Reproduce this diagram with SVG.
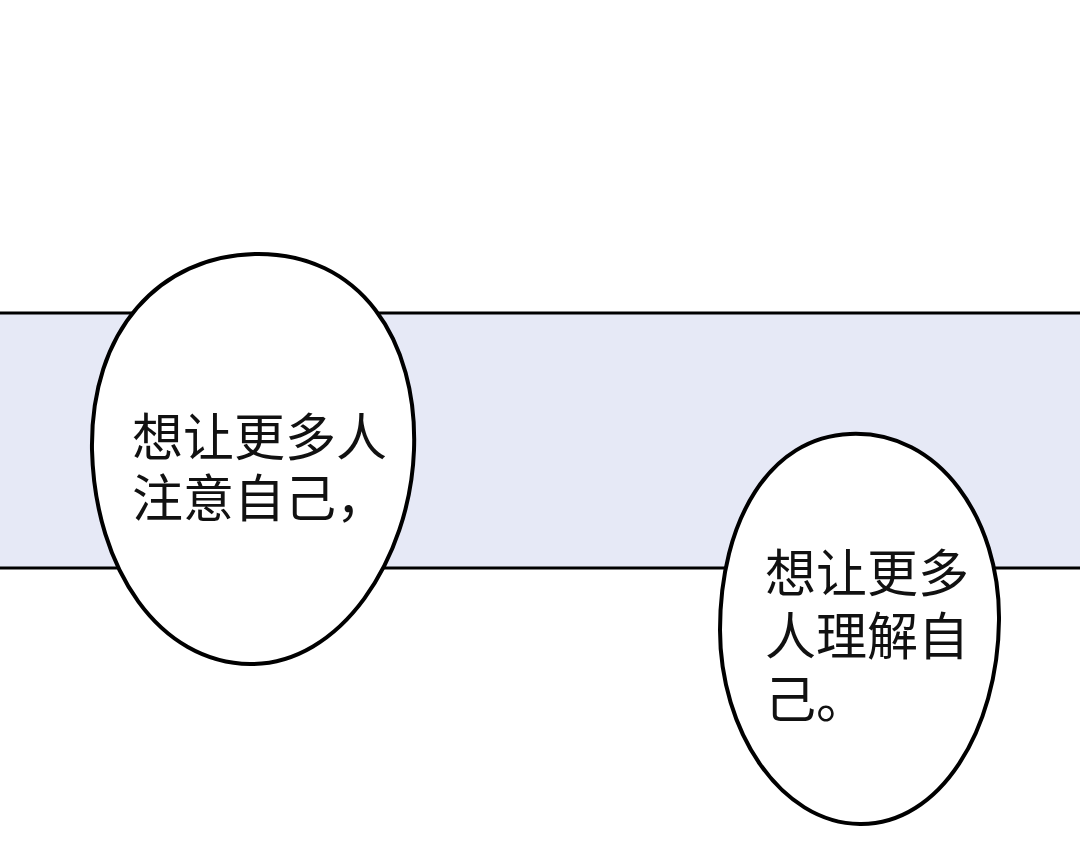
<svg xmlns="http://www.w3.org/2000/svg" width="1080" height="844" viewBox="0 0 1080 844">
<style>
.b{fill:#fff;stroke:#000;stroke-width:4}
.t{font-family:"Noto Sans CJK SC",sans-serif;font-size:51px;fill:#111}
</style>
<rect width="1080" height="844" fill="#fff"/>
<rect x="-5" y="313" width="1090" height="255" fill="#e6e9f6" stroke="#000" stroke-width="3"/>
<g id="bubble1">
<path class="b" d="M255,254 C360,252 418,340 414,450 C410,560 340,665 250,664 C160,663 95,570 92,450 C90,330 160,256 255,254 Z"/>
<text class="t" x="132" y="456">想让更多人</text>
<text class="t" x="132" y="517">注意自己，</text>
</g>
<g id="bubble2">
<path class="b" d="M850,434 C940,430 1000,520 999,620 C998,730 940,825 860,824 C780,823 720,730 720,630 C720,520 770,437 850,434 Z"/>
<text class="t" x="765" y="592">想让更多</text>
<text class="t" x="765" y="655">人理解自</text>
<text class="t" x="765" y="718">己。</text>
</g>
</svg>
